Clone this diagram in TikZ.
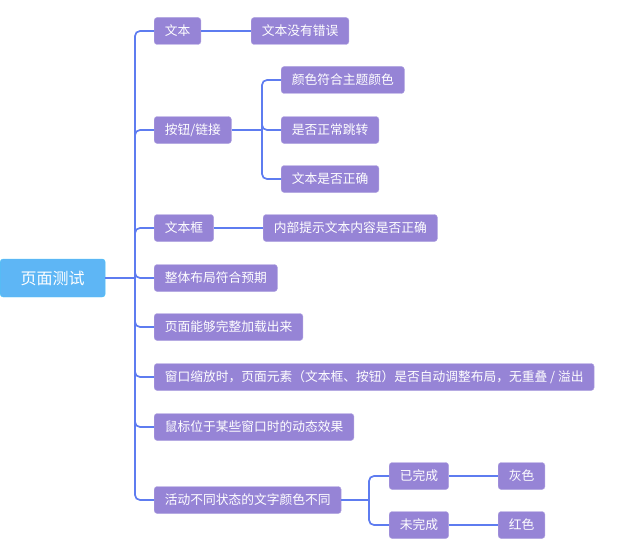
\documentclass[tikz,border=0pt]{standalone}
\usepackage{fontspec}
\newfontfamily\cjk{Noto Sans CJK SC}
\definecolor{leaf}{RGB}{150,132,214}
\definecolor{link}{RGB}{94,124,240}
\definecolor{rootc}{RGB}{94,182,245}

\begin{document}
\begin{tikzpicture}[x=1pt, y=-1pt,
    box/.style={fill=leaf, draw=leaf!75!white, rounded corners=3pt, text=white,
        font=\cjk\fontsize{12.75}{14}\selectfont, inner xsep=10.6pt, inner ysep=0pt,
        minimum height=27pt, anchor=west},
    conn/.style={draw=link, line width=1.7pt, rounded corners=5pt}]

    \useasboundingbox (0,0) rectangle (619,543);

    % root
    \node[box, fill=rootc, draw=rootc!80!cyan, font=\cjk\fontsize{16}{18}\selectfont,
        minimum height=38pt, minimum width=105pt] (root) at (0,278) {页面测试};

    % first level
    \node[box] (txt)   at (154,31)  {文本};
    \node[box] (btn)   at (154,130) {按钮/链接};
    \node[box] (inp)   at (154,228) {文本框};
    \node[box] (lay)   at (154,278) {整体布局符合预期};
    \node[box] (load)  at (154,327) {页面能够完整加载出来};
    \node[box] (zoom)  at (154,377) {窗口缩放时，页面元素（文本框、按钮）是否自动调整布局，无重叠 / 溢出};
    \node[box] (hover) at (154,427) {鼠标位于某些窗口时的动态效果};
    \node[box] (act)   at (154,500) {活动不同状态的文字颜色不同};

    % second level
    \node[box] (txtok) at (251,31)  {文本没有错误};
    \node[box] (col)   at (281,80)  {颜色符合主题颜色};
    \node[box] (jump)  at (281,130) {是否正常跳转};
    \node[box] (btxt)  at (281,179) {文本是否正确};
    \node[box] (inpok) at (263,228) {内部提示文本内容是否正确};
    \node[box] (done)  at (389,476) {已完成};
    \node[box] (todo)  at (389,525) {未完成};

    % third level
    \node[box] (grey)  at (498,476) {灰色};
    \node[box] (red)   at (498,525) {红色};

    % connectors
    \coordinate (trunk) at (135,278);
    \draw[conn, line width=2.6pt] (root.east) -- (trunk);
    \foreach \n in {txt,btn,inp,lay,load,zoom,hover,act}
        \draw[conn] (trunk) |- (\n.west);

    \draw[conn] (txt.east) -- (txtok.west);

    \coordinate (btnfork) at (262,130);
    \draw[conn] (btn.east) -- (btnfork);
    \foreach \n in {col,jump,btxt}
        \draw[conn] (btnfork) |- (\n.west);

    \draw[conn] (inp.east) -- (inpok.west);

    \coordinate (actfork) at (369,500);
    \draw[conn] (act.east) -- (actfork);
    \foreach \n in {done,todo}
        \draw[conn] (actfork) |- (\n.west);

    \draw[conn] (done.east) -- (grey.west);
    \draw[conn] (todo.east) -- (red.west);
\end{tikzpicture}
\end{document}
